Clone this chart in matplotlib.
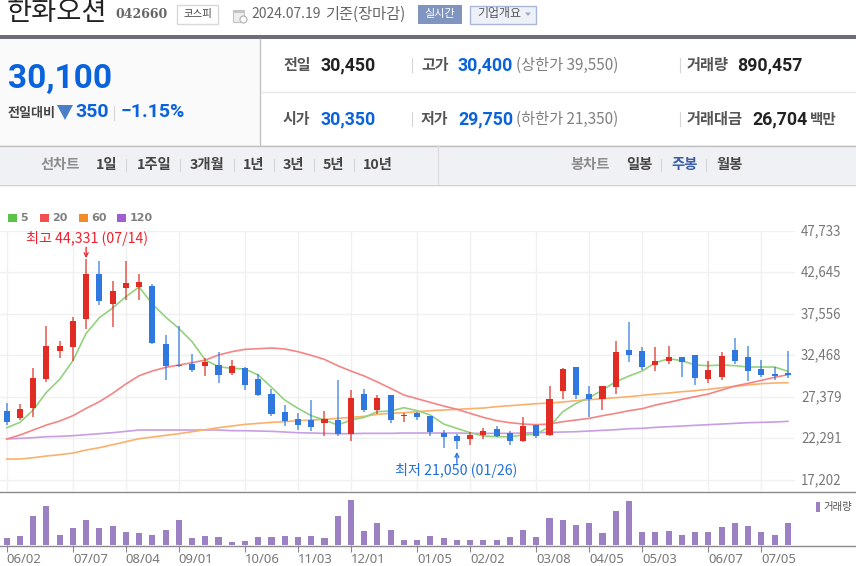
import matplotlib
matplotlib.use('Agg')
import matplotlib.pyplot as plt
from matplotlib.patches import Polygon, Rectangle

plt.rcParams['font.family'] = ['Noto Sans CJK KR', 'DejaVu Sans']

# weekly candles
opens = [25660, 24760, 25986, 29542, 33016, 33466, 36899, 42498, 38819, 40699, 40822, 40986, 33915, 31299, 31463, 31177,
         31300, 30279, 30973, 29625, 27786, 25497, 24720, 24557, 24148, 24557, 22799, 27786, 25824, 27622, 25047, 25374,
         25047, 22922, 22595, 22186, 22718, 23494, 22922, 21982, 23944, 22759, 28112, 31014, 27786, 27132, 28562, 33140,
         32976, 31341, 31791, 32240, 32526, 29625, 29788, 33140, 32240, 30810, 30238, 30350]
highs = [26599, 26518, 30891, 36081, 34242, 37144, 44331, 44100, 41558, 44000, 42498, 41272, 34978, 36040, 32689, 32199,
         32935, 31913, 31014, 30197, 28358, 26396, 25374, 27009, 25619, 29461, 28235, 28399, 27581, 27622, 25456, 25538,
         25088, 23331, 22840, 23045, 23535, 23780, 23208, 24884, 23985, 28685, 30973, 31014, 28685, 28685, 34202, 36532,
         33466, 33466, 33630, 32240, 32526, 31791, 32854, 34570, 33630, 31913, 31014, 33000]
lows = [23943, 24556, 24883, 29174, 32117, 31790, 35754, 38697, 35918, 39269, 39269, 33833, 29501, 31095, 30400, 29951,
        29052, 30115, 28235, 27499, 25088, 23821, 23331, 23249, 22595, 22636, 22023, 25497, 25252, 24148, 24312, 24598,
        22636, 21083, 21050, 21532, 22186, 22432, 21492, 21859, 22309, 22636, 27172, 27172, 24884, 25824, 27786, 31627,
        30728, 30565, 31464, 29788, 28889, 29052, 29502, 31464, 29339, 29788, 29502, 29750]
closes = [24270, 25905, 29665, 33629, 33629, 36694, 42498, 39146, 40332, 41394, 41435, 33956, 31177, 31177, 30727, 31626,
          30115, 31137, 28889, 27581, 25292, 24434, 23985, 23699, 24679, 22799, 27295, 25783, 27295, 24598, 25129, 24884,
          23045, 22432, 21982, 22759, 23167, 22595, 21982, 23780, 22636, 27172, 30851, 27622, 27172, 28685, 32854, 32567,
          31014, 31750, 32240, 31668, 29666, 30687, 32363, 31791, 30565, 30115, 29952, 30100]

ma5 = [23616, 24270, 25782, 27948, 29542, 31831, 35182, 37103, 38288, 39678, 40863, 38779, 37185, 35795, 34160, 31912,
       31096, 30892, 30810, 30074, 28562, 27009, 25987, 25088, 24557, 23944, 24557, 24884, 25579, 25660, 26069, 25701,
       25170, 24066, 23535, 23004, 22595, 22513, 22513, 22718, 22840, 23739, 25579, 26600, 27295, 28235, 29257, 29952,
       30565, 31586, 32077, 31832, 31300, 31219, 31300, 31219, 31055, 31055, 31055, 30524]
ma20 = [22226, 22717, 23330, 23943, 24433, 25087, 25986, 26804, 27825, 28970, 29992, 30564, 31013, 31299, 31585, 31912,
        32526, 32935, 33221, 33303, 33385, 33262, 32935, 32486, 31995, 31219, 30565, 29952, 29216, 28439, 27622, 27172,
        26723, 26273, 25865, 25374, 24884, 24475, 24230, 24066, 23985, 24066, 24352, 24557, 24761, 25088, 25374, 25701,
        25946, 26396, 26723, 27091, 27418, 27745, 28235, 28726, 29052, 29420, 29788, 30115]
ma60 = [19774, 19774, 19938, 20142, 20305, 20510, 20878, 21164, 21531, 21899, 22267, 22471, 22676, 22880, 23125, 23371,
        23617, 23821, 24025, 24148, 24271, 24352, 24475, 24557, 24639, 24761, 24884, 25006, 25252, 25374, 25456, 25579,
        25701, 25783, 25865, 25946, 26028, 26192, 26314, 26437, 26559, 26641, 26764, 26927, 27050, 27172, 27295, 27418,
        27581, 27745, 27867, 28031, 28153, 28317, 28521, 28685, 28848, 29012, 29093, 29134]
ma120 = [22226, 22308, 22390, 22512, 22553, 22635, 22758, 22880, 23003, 23166, 23330, 23330, 23330, 23330, 23330, 23330,
         23331, 23249, 23249, 23208, 23167, 23085, 23004, 22963, 22922, 22881, 22881, 22922, 22922, 22922, 22963, 22963,
         22963, 22963, 22963, 22922, 22922, 22922, 22922, 22963, 23004, 23045, 23085, 23126, 23208, 23290, 23372, 23494,
         23535, 23658, 23739, 23821, 23903, 23985, 24066, 24148, 24230, 24271, 24312, 24394]

volumes = [1050, 1400, 4400, 5900, 1600, 2550, 3850, 2550, 2900, 2000, 1800, 1600, 2350, 3850, 1050, 1400, 1200, 450, 650, 1200,
           1200, 1400, 1200, 1400, 1050, 4400, 6850, 2150, 3300, 2350, 850, 850, 1400, 1050, 850, 850, 850, 850, 1200, 2350,
           1200, 4050, 3850, 3100, 3300, 1800, 5150, 6650, 1950, 1950, 2150, 1600, 1950, 1950, 2700, 3300, 2900, 1950, 1600, 3300]

price_ticks = [47733, 42645, 37556, 32468, 27379, 22291, 17202]
date_idx = [0, 5, 9, 13, 18, 22, 26, 31, 35, 40, 44, 48, 53, 57]
date_labels = ['06/02', '07/07', '08/04', '09/01', '10/06', '11/03', '12/01', '01/05', '02/02', '03/08', '04/05', '05/03',
               '06/07', '07/05']

RED = '#e02c22'
BLUE = '#2f78e0'
NUM_BLUE = '#0a63dc'
GRAY = '#777777'
DARK = '#3c3c3c'
NUM_FONT = ['Roboto', 'DejaVu Sans']

W, H = 856, 566


def box(left, right, top, bottom):
    # figure axes rectangle from pixel edges
    return [left / W, 1 - bottom / H, (right - left) / W, (bottom - top) / H]


fig = plt.figure(figsize=(W / 100, H / 100), dpi=100, facecolor='white')

# page furniture lives on a pixel-scaled axes
page = fig.add_axes([0, 0, 1, 1])
page.set_xlim(0, W)
page.set_ylim(H, 0)
page.axis('off')


def put(x, y, s, size=10, color=DARK, weight='normal', ha='left', family=None):
    page.text(x, y, s, fontsize=size, color=color, fontweight=weight, ha=ha, va='center',
              family=family if family else ['Noto Sans CJK KR', 'DejaVu Sans'])


def rect(x0, y0, x1, y1, fc, ec='none', lw=0):
    page.add_patch(Rectangle((x0, y0), x1 - x0, y1 - y0, facecolor=fc, edgecolor=ec, linewidth=lw))


def sep(x, y0, y1, color='#d5d5d5'):
    page.plot([x, x], [y0, y1], color=color, lw=0.8)


# title row
put(7, 13, '한화오션', 19.7, '#222222')
put(115, 15, '042660', 9, '#666666', 'bold', family='DejaVu Serif')
rect(177.5, 4.5, 218.5, 23.5, 'white', '#d8d8d8', 1)
put(198, 14, '코스피', 7.5, '#444444', ha='center')
rect(233, 10, 244, 22, '#eeeeee', '#c4c4c4', 0.8)
rect(233, 10, 244, 13, '#c4c4c4')
page.add_patch(plt.Circle((243.5, 19.5), 3.5, facecolor='white', edgecolor='#b0b0b0', lw=0.8))
put(251, 14, '2024.07.19', 10, '#666666')
put(325, 14, '기준(장마감)', 11, '#666666')
rect(418, 5, 462, 24, '#8094c0')
put(440, 14, '실시간', 8, 'white', ha='center')
rect(470.5, 5.5, 536.5, 23.5, '#eef1f8', '#a9b7d9', 1)
put(477, 14, '기업개요', 8.6, '#555555')
page.add_patch(Polygon([[525, 12.5], [531, 12.5], [528, 16]], facecolor='#a0aac8'))

rect(0, 35, W, 39, '#6b6e78')

# quote panel
rect(0, 39, 260, 145, '#fafafa')
page.plot([260.5, 260.5], [39, 145], color='#c4c4c4', lw=1)
page.plot([261, W], [91.5, 91.5], color='#e8e8e8', lw=1)
put(8, 79, '30,100', 24, NUM_BLUE, 'bold', family=NUM_FONT)
put(8, 113, '전일대비', 9.4, '#444444', 'bold')
page.add_patch(Polygon([[57, 105], [73, 105], [65, 120]], facecolor='#4a7fc8'))
put(75, 112, '350', 14, NUM_BLUE, 'bold', family=NUM_FONT)
sep(114.5, 106, 120)
put(121, 112, '\u22121.15%', 14, NUM_BLUE, 'bold', family=NUM_FONT)

put(283, 65, '전일', 10.8, '#555555', 'bold')
put(321, 65, '30,450', 12.8, '#222222', 'bold', family=NUM_FONT)
put(283, 119, '시가', 10.8, '#555555', 'bold')
put(321, 119, '30,350', 12.8, NUM_BLUE, 'bold', family=NUM_FONT)
sep(412.5, 58, 72)
sep(412.5, 112, 126)
put(421, 65, '고가', 10.8, '#555555', 'bold')
put(458, 65, '30,400', 12.8, NUM_BLUE, 'bold', family=NUM_FONT)
put(516, 65, '(상한가 39,550)', 11, '#808080')
put(421, 119, '저가', 10.8, '#555555', 'bold')
put(458, 119, '29,750', 12.8, NUM_BLUE, 'bold', family=NUM_FONT)
put(516, 119, '(하한가 21,350)', 11, '#808080')
sep(680.5, 58, 72)
sep(680.5, 112, 126)
put(687, 65, '거래량', 11, '#555555', 'bold')
put(737, 65, '890,457', 12.8, '#222222', 'bold', family=NUM_FONT)
put(687, 119, '거래대금', 11, '#555555', 'bold')
put(752, 119, '26,704', 12.8, '#222222', 'bold', family=NUM_FONT)
put(810, 119, '백만', 10.5, '#555555', 'bold')

# chart type nav bar
rect(0, 145, W, 184, '#f0f1f5')
page.plot([0, W], [145.5, 145.5], color='#c0c0c0', lw=1)
page.plot([0, W], [184.5, 184.5], color='#d0d0d0', lw=1)
page.plot([438.5, 438.5], [146, 184], color='#dddddd', lw=1)
put(41, 165, '선차트', 10.3, '#8c8c8c', 'bold')
for x, s in [(96, '1일'), (137, '1주일'), (190, '3개월'), (243, '1년'), (283, '3년'), (323, '5년'), (363, '10년')]:
    put(x, 165, s, 10.3, '#444444', 'bold')
for x in [126, 180, 234, 274, 314, 354]:
    sep(x + 0.5, 159, 171)
put(570, 165, '봉차트', 10.3, '#8c8c8c', 'bold')
put(626, 165, '일봉', 10.3, '#444444', 'bold')
put(671, 165, '주봉', 10.3, '#3a5da8', 'bold')
put(716, 165, '월봉', 10.3, '#444444', 'bold')
sep(661.5, 159, 171)
sep(706.5, 159, 171)

# moving average legend
for x0, color, x_txt, s in [(8, '#5bc24a', 20, '5'), (40, '#f0504f', 52, '20'), (79, '#f28c28', 91, '60'), (117, '#a05fd0', 130, '120')]:
    rect(x0, 214, x0 + 9, 222, color)
    put(x_txt, 218, s, 8, '#808080', 'bold', family='DejaVu Sans')

# volume label
rect(816, 502, 820, 512, '#9b80c4')
put(823, 507, '거래량', 7.5, '#555555')

# price panel
ax = fig.add_axes(box(0, 795, 231, 491.3), facecolor='none')
x = list(range(len(closes)))
ax.set_xlim(-0.506, 59.54)
ax.set_ylim(15817, 47733)
ax.set_xticks(date_idx)
ax.set_yticks(price_ticks)
ax.grid(True, color='#f0f0f0', lw=1)
ax.set_axisbelow(True)
ax.tick_params(left=False, bottom=False, labelleft=False, labelbottom=False)
for s in ax.spines.values():
    s.set_visible(False)

ax.plot(x, ma120, color='#c79ee3', lw=1.2, zorder=2)
ax.plot(x, ma60, color='#fbb06c', lw=1.2, zorder=2)
ax.plot(x, ma20, color='#f58585', lw=1.2, zorder=2)
ax.plot(x, ma5, color='#93d27f', lw=1.2, zorder=2)

for i in x:
    up = closes[i] >= opens[i]
    color = RED if up else BLUE
    ax.vlines(i, lows[i], highs[i], color=color, lw=1.1, alpha=0.8, zorder=3)
    ax.bar(i, abs(closes[i] - opens[i]), bottom=min(opens[i], closes[i]), width=0.46, color=color, zorder=4)

for p in price_ticks:
    page.text(801, 480 - (p - 17202) / 122.6, format(p, ','), fontsize=9.6, color=GRAY, va='center')

# extreme markers
i_hi = highs.index(max(highs))
ax.annotate('', xy=(i_hi, max(highs) + 60), xytext=(i_hi, max(highs) + 1400),
            arrowprops=dict(arrowstyle='->', color='#e8303a', lw=1, mutation_scale=7, shrinkA=0, shrinkB=0))
ax.annotate('최고 44,331 (07/14)', xy=(i_hi, max(highs)), xytext=(-43, 14.4), textcoords='offset points',
            color='#f0202c', fontsize=10.2, va='center', annotation_clip=False)
i_lo = lows.index(min(lows))
ax.annotate('', xy=(i_lo, min(lows) - 400), xytext=(i_lo, min(lows) - 1800),
            arrowprops=dict(arrowstyle='->', color='#2f78e0', lw=1, mutation_scale=7, shrinkA=0, shrinkB=0))
ax.annotate('최저 21,050 (01/26)', xy=(i_lo, min(lows)), xytext=(-44.6, -16), textcoords='offset points',
            color='#1f6fdc', fontsize=10.2, va='center')

# volume panel
ax_v = fig.add_axes(box(0, 795, 491.3, 545.3), facecolor='none')
ax_v.set_xlim(-0.506, 59.54)
ax_v.set_ylim(0, 8100)
ax_v.bar(x, volumes, width=0.46, color='#9b80c4')
ax_v.set_xticks(date_idx)
ax_v.set_xticklabels(date_labels, ha='left', fontsize=9.4, color=GRAY, family=['Noto Sans', 'DejaVu Sans'])
ax_v.tick_params(axis='x', length=5, width=0.8, color='#888888', pad=0.5)
ax_v.set_yticks([])
for s in ax_v.spines.values():
    s.set_visible(False)
page.plot([0, W], [491.5, 491.5], color='#8a8a8a', lw=1, zorder=5)
page.plot([0, W], [545.5, 545.5], color='#8a8a8a', lw=1, zorder=5)

fig.savefig('out.png', dpi=100)
